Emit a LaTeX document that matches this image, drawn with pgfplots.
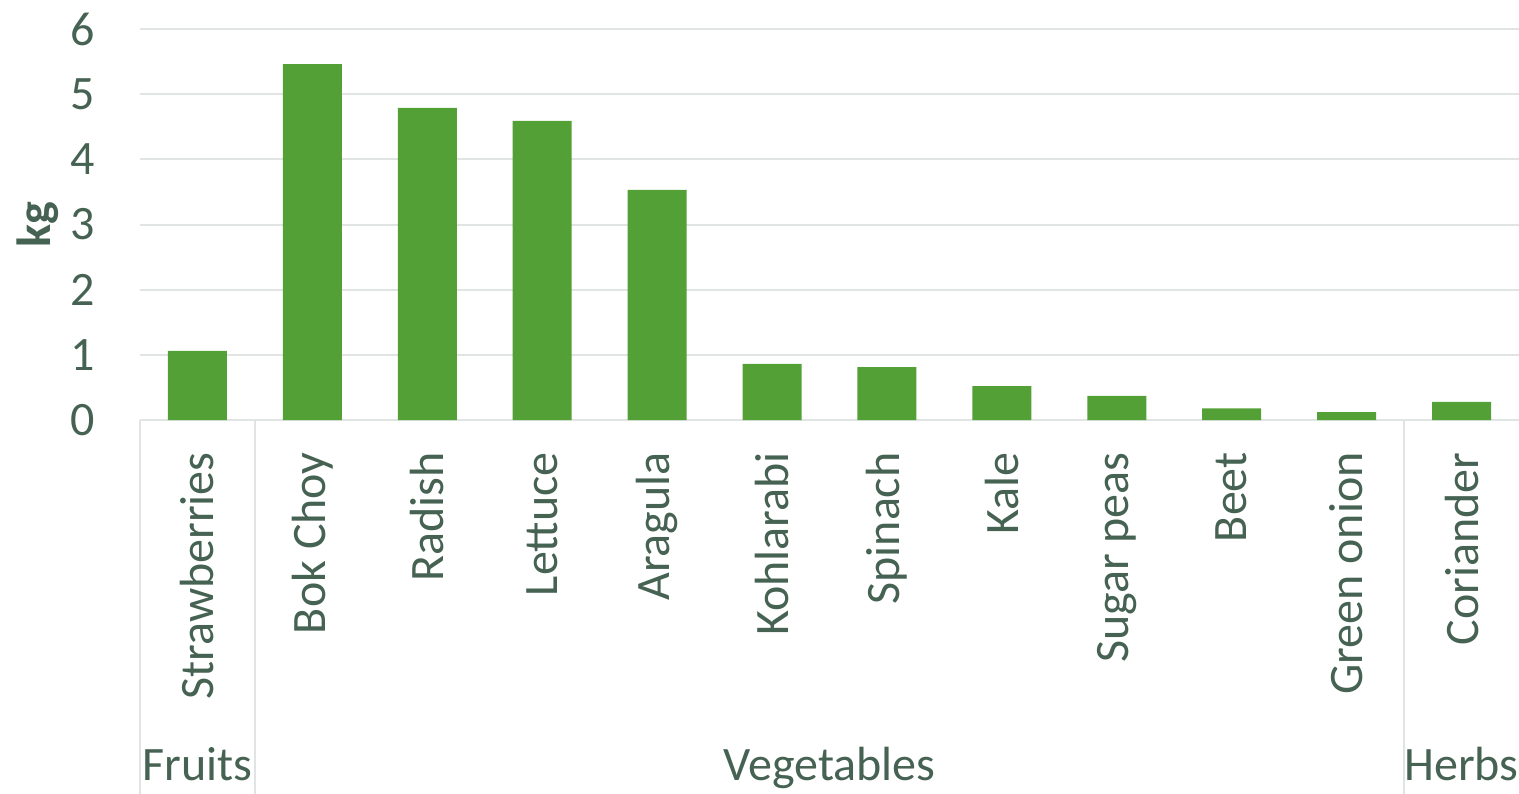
\documentclass[border=0pt]{standalone}
\usepackage{pgfplots}
\pgfplotsset{compat=1.18}
\usepackage{fontspec}
\setmainfont{Carlito}
\definecolor{bargreen}{RGB}{83,160,54}
\definecolor{txt}{RGB}{70,98,82}
\definecolor{gridc}{RGB}{224,228,226}
\begin{document}
\begin{tikzpicture}
\useasboundingbox (0,0) rectangle (759.5pt,396.5pt);
\begin{axis}[
    at={(70pt,186.5pt)}, anchor=south west,
    scale only axis,
    width=689.5pt, height=195.5pt,
    xmin=-0.5, xmax=11.5,
    ymin=0, ymax=6,
    ytick={0,1,2,3,4,5,6},
    xtick=data,
    xticklabels={Strawberries,Bok Choy,Radish,Lettuce,Aragula,Kohlarabi,Spinach,Kale,Sugar peas,Beet,Green onion,Coriander},
    major tick length=0pt,
    axis line style={draw=none},
    ymajorgrids,
    grid style={gridc, line width=1pt},
    /pgf/number format/assume math mode=true,
    tick label style={txt, font=\fontsize{24}{28}\selectfont, inner sep=0pt},
    xticklabel style={rotate=90, anchor=east},
    yticklabel style={anchor=east},
    xticklabel shift=16pt,
    yticklabel shift=22.5pt,
    ylabel={\textbf{kg}},
    ylabel style={txt, font=\fontsize{24}{28}\selectfont, at={(axis description cs:-0.074,0.5)}, anchor=center},
    clip=false,
]
\addplot[ybar, bar width=29.5pt, fill=bargreen, draw=none]
coordinates {(0,1.06) (1,5.46) (2,4.79) (3,4.59) (4,3.53) (5,0.86) (6,0.81) (7,0.52) (8,0.37) (9,0.18) (10,0.12) (11,0.28)};
% group separators
\draw[gridc, line width=1pt] (axis cs:-0.5,0) -- ++(0pt,-190pt);
\draw[gridc, line width=1pt] (axis cs:0.5,0) -- ++(0pt,-190pt);
\draw[gridc, line width=1pt] (axis cs:10.5,0) -- ++(0pt,-190pt);
% group labels
\node[txt, font=\fontsize{24}{28}\selectfont, anchor=base, yshift=-180pt] at (axis cs:0,0) {Fruits};
\node[txt, font=\fontsize{24}{28}\selectfont, anchor=base, yshift=-180pt] at (axis cs:5.5,0) {Vegetables};
\node[txt, font=\fontsize{24}{28}\selectfont, anchor=base, yshift=-180pt] at (axis cs:11,0) {Herbs};
\end{axis}
\end{tikzpicture}
\end{document}
